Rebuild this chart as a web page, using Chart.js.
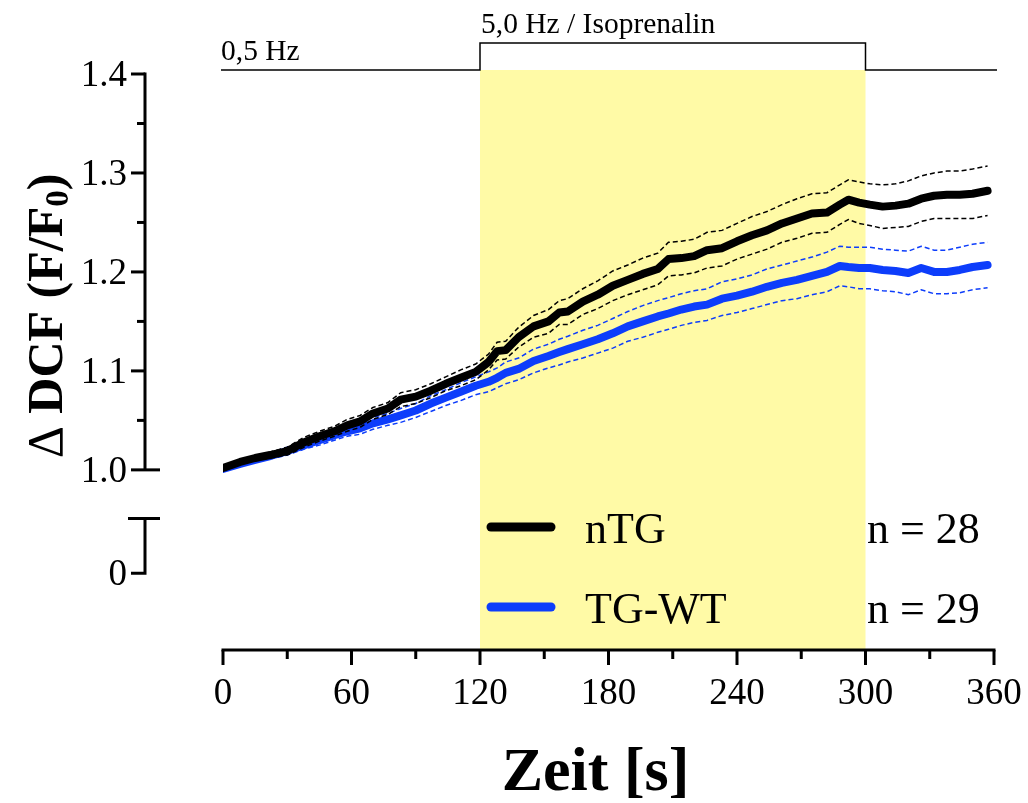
<!DOCTYPE html>
<html>
<head>
<meta charset="utf-8">
<script src="https://cdn.jsdelivr.net/npm/chart.js@4.4.1/dist/chart.umd.min.js"></script>
<style>
  body { margin: 0; background: #fff; }
</style>
</head>
<body>
<canvas id="dcfChart" width="1028" height="803"></canvas>
<script>
// time points (s)
const timeSec = [0, 8, 15, 22, 30, 38, 45, 52, 58, 64, 70, 77, 83, 90, 97, 104, 111, 118, 124, 128,
  132, 138, 145, 152, 157, 161, 168, 175, 182, 189, 196, 203, 208, 214, 220, 226, 233, 240, 247, 254,
  261, 268, 275, 282, 288, 292, 297, 302, 308, 314, 320, 326, 332, 338, 344, 350, 357];

// nTG: mean and SEM of F/F0
const ntgMean = [1.002, 1.008, 1.012, 1.015, 1.019, 1.028, 1.034, 1.039, 1.045, 1.049, 1.057, 1.062, 1.071, 1.074, 1.080, 1.087, 1.093, 1.099, 1.109, 1.120,
  1.121, 1.134, 1.145, 1.150, 1.159, 1.160, 1.170, 1.177, 1.186, 1.192, 1.198, 1.203, 1.213, 1.214, 1.216, 1.222, 1.224, 1.231, 1.237, 1.242,
  1.249, 1.254, 1.259, 1.260, 1.268, 1.273, 1.270, 1.268, 1.266, 1.267, 1.269, 1.274, 1.277, 1.278, 1.278, 1.279, 1.282];
const ntgSem = [0.001, 0.002, 0.002, 0.003, 0.004, 0.005, 0.005, 0.005, 0.006, 0.006, 0.006, 0.006, 0.007, 0.007, 0.007, 0.007, 0.008, 0.008, 0.008, 0.009,
  0.009, 0.010, 0.011, 0.012, 0.012, 0.013, 0.013, 0.014, 0.015, 0.015, 0.016, 0.016, 0.017, 0.017, 0.017, 0.018, 0.018, 0.018, 0.019, 0.019,
  0.019, 0.020, 0.020, 0.020, 0.020, 0.020, 0.021, 0.021, 0.022, 0.022, 0.023, 0.023, 0.023, 0.024, 0.024, 0.025, 0.025];

// TG-WT: mean and SEM of F/F0
const tgwtMean = [1.001, 1.006, 1.010, 1.014, 1.019, 1.025, 1.030, 1.035, 1.039, 1.042, 1.047, 1.051, 1.055, 1.060, 1.067, 1.073, 1.079, 1.085, 1.089, 1.093,
  1.098, 1.102, 1.110, 1.115, 1.119, 1.122, 1.127, 1.132, 1.138, 1.145, 1.150, 1.155, 1.158, 1.162, 1.165, 1.167, 1.173, 1.176, 1.180, 1.185,
  1.189, 1.192, 1.196, 1.200, 1.206, 1.205, 1.204, 1.204, 1.202, 1.201, 1.199, 1.204, 1.200, 1.200, 1.202, 1.205, 1.207];
const tgwtSem = [0.001, 0.002, 0.002, 0.003, 0.004, 0.004, 0.005, 0.005, 0.005, 0.006, 0.006, 0.006, 0.007, 0.007, 0.008, 0.008, 0.009, 0.009, 0.010, 0.010,
  0.011, 0.011, 0.012, 0.012, 0.013, 0.013, 0.014, 0.014, 0.015, 0.015, 0.016, 0.016, 0.016, 0.016, 0.016, 0.016, 0.017, 0.017, 0.017, 0.018,
  0.018, 0.019, 0.019, 0.020, 0.020, 0.020, 0.021, 0.021, 0.021, 0.021, 0.022, 0.022, 0.022, 0.022, 0.023, 0.023, 0.023];

const groupNames = ["nTG", "TG-WT"];
const groupN = ["n = 28", "n = 29"];
const xTicks = [0, 60, 120, 180, 240, 300, 360];
const yTicks = [1.0, 1.1, 1.2, 1.3, 1.4];
const stimWindow = [120, 300];
const stimLabels = ["0,5 Hz", "5,0 Hz / Isoprenalin"];

const serif = "'Liberation Serif', 'Times New Roman', serif";
const black = "#000000";
const blue = "#0d3dfb";
const yellow = "#fffaa6";

function points(values, sem, sign) {
  return values.map((v, i) => ({ x: timeSec[i], y: sem ? v + sign * sem[i] : v }));
}

function meanLine(label, values, color, order) {
  return {
    label: label, data: points(values), borderColor: color, borderWidth: 8,
    borderCapStyle: "round", borderJoinStyle: "round", pointRadius: 0, tension: 0, order: order
  };
}

function semLine(values, sem, sign, color, order) {
  return {
    label: "", data: points(values, sem, sign), borderColor: color, borderWidth: 1.5,
    borderDash: [5, 3], pointRadius: 0, tension: 0, order: order
  };
}

// axes, stimulation protocol, titles and legend
const decorPlugin = {
  id: "decor",
  beforeDatasetsDraw(chart) {
    const { ctx, chartArea, scales: { x } } = chart;
    const x1 = x.getPixelForValue(stimWindow[0]);
    const x2 = x.getPixelForValue(stimWindow[1]);
    ctx.save();
    ctx.fillStyle = yellow;
    ctx.fillRect(x1, chartArea.top - 4, x2 - x1, chartArea.bottom - chartArea.top + 4);
    ctx.restore();
  },
  afterDraw(chart) {
    const { ctx, chartArea, scales: { x, y, yLow } } = chart;
    ctx.save();
    ctx.strokeStyle = black;
    ctx.fillStyle = black;

    // stimulation protocol line
    const base = chartArea.top - 4, high = chartArea.top - 31;
    const x1 = x.getPixelForValue(stimWindow[0]);
    const x2 = x.getPixelForValue(stimWindow[1]);
    ctx.lineWidth = 1.5;
    ctx.beginPath();
    ctx.moveTo(x.getPixelForValue(0) - 2, base);
    ctx.lineTo(x1, base);
    ctx.lineTo(x1, high);
    ctx.lineTo(x2, high);
    ctx.lineTo(x2, base);
    ctx.lineTo(x.getPixelForValue(360) + 3, base);
    ctx.stroke();
    ctx.font = "29.5px " + serif;
    ctx.textAlign = "left";
    ctx.textBaseline = "alphabetic";
    ctx.fillText(stimLabels[0], x.getPixelForValue(0) - 2, base - 10);
    ctx.fillText(stimLabels[1], x1 + 1, high - 10);

    // y axis (upper part)
    const ax = chartArea.left - 78;
    ctx.lineWidth = 3;
    ctx.lineCap = "butt";
    ctx.beginPath();
    ctx.moveTo(ax, y.getPixelForValue(1.4) - 1.5);
    ctx.lineTo(ax, y.getPixelForValue(1.0));
    ctx.stroke();
    ctx.font = "37px " + serif;
    ctx.textAlign = "right";
    ctx.textBaseline = "middle";
    yTicks.forEach((v, i) => {
      const py = y.getPixelForValue(v);
      ctx.beginPath();
      ctx.moveTo(ax - 14, py);
      ctx.lineTo(v === 1.0 ? ax + 15 : ax, py);
      ctx.stroke();
      ctx.fillText(v.toFixed(1), ax - 18, py + 2);
      if (i < yTicks.length - 1) {
        const pm = y.getPixelForValue(v + 0.05);
        ctx.beginPath();
        ctx.moveTo(ax - 8, pm);
        ctx.lineTo(ax, pm);
        ctx.stroke();
      }
    });

    // y axis (lower part, after the break)
    const cap = yLow.getPixelForValue(0.57), zero = yLow.getPixelForValue(0);
    ctx.beginPath();
    ctx.moveTo(ax - 17, cap);
    ctx.lineTo(ax + 15, cap);
    ctx.moveTo(ax, cap);
    ctx.lineTo(ax, zero);
    ctx.lineTo(ax - 14, zero);
    ctx.stroke();
    ctx.fillText("0", ax - 18, zero + 2);

    // x axis
    const ay = chartArea.bottom;
    ctx.beginPath();
    ctx.moveTo(x.getPixelForValue(0) - 1.5, ay);
    ctx.lineTo(x.getPixelForValue(360) + 1.5, ay);
    ctx.stroke();
    ctx.textAlign = "center";
    ctx.textBaseline = "alphabetic";
    xTicks.forEach((v, i) => {
      const px = x.getPixelForValue(v);
      ctx.beginPath();
      ctx.moveTo(px, ay);
      ctx.lineTo(px, ay + 15);
      ctx.stroke();
      ctx.fillText(String(v), px, ay + 54);
      if (i < xTicks.length - 1) {
        const pm = x.getPixelForValue(v + 30);
        ctx.beginPath();
        ctx.moveTo(pm, ay);
        ctx.lineTo(pm, ay + 9);
        ctx.stroke();
      }
    });

    // x title
    ctx.font = "bold 62px " + serif;
    ctx.fillText("Zeit [s]", (chartArea.left + chartArea.right) / 2 - 13, 790);

    // y title with subscript
    ctx.translate(62, 316);
    ctx.rotate(-Math.PI / 2);
    const parts = [
      { t: "\u0394 ", f: "50px " + serif, dy: 0 },
      { t: "DCF (F/F", f: "bold 50px " + serif, dy: 0 },
      { t: "0", f: "bold 33px " + serif, dy: 6 },
      { t: ")", f: "bold 50px " + serif, dy: 0 }
    ];
    let total = 0;
    parts.forEach(p => { ctx.font = p.f; p.w = ctx.measureText(p.t).width; total += p.w; });
    let cx = -total / 2;
    ctx.textAlign = "left";
    parts.forEach(p => { ctx.font = p.f; ctx.fillText(p.t, cx, p.dy); cx += p.w; });
    ctx.restore();

    // legend
    ctx.save();
    const colors = [black, blue];
    ctx.lineCap = "round";
    ctx.lineWidth = 9;
    ctx.font = "44px " + serif;
    ctx.textBaseline = "alphabetic";
    groupNames.forEach((name, i) => {
      const ly = 527 + i * 80;
      ctx.strokeStyle = colors[i];
      ctx.beginPath();
      ctx.moveTo(491, ly);
      ctx.lineTo(551, ly);
      ctx.stroke();
      ctx.fillStyle = black;
      ctx.textAlign = "left";
      ctx.fillText(name, 585, ly + 16);
      ctx.fillText(groupN[i], 867, ly + 16);
    });
    ctx.restore();
  }
};

new Chart(document.getElementById("dcfChart"), {
  type: "line",
  data: {
    datasets: [
      meanLine(groupNames[0], ntgMean, black, 0),
      semLine(ntgMean, ntgSem, 1, black, 1),
      semLine(ntgMean, ntgSem, -1, black, 1),
      meanLine(groupNames[1], tgwtMean, blue, 2),
      semLine(tgwtMean, tgwtSem, 1, blue, 3),
      semLine(tgwtMean, tgwtSem, -1, blue, 3)
    ]
  },
  options: {
    responsive: false,
    animation: false,
    layout: { padding: { left: 223, right: 34, top: 74, bottom: 153 } },
    plugins: { legend: { display: false }, tooltip: { enabled: false } },
    scales: {
      x: { type: "linear", min: 0, max: 360, display: false },
      y: { min: 0.818, max: 1.4, display: false },
      yLow: { min: -0.8, max: 5.2, display: false }
    }
  },
  plugins: [decorPlugin]
});
</script>
</body>
</html>
